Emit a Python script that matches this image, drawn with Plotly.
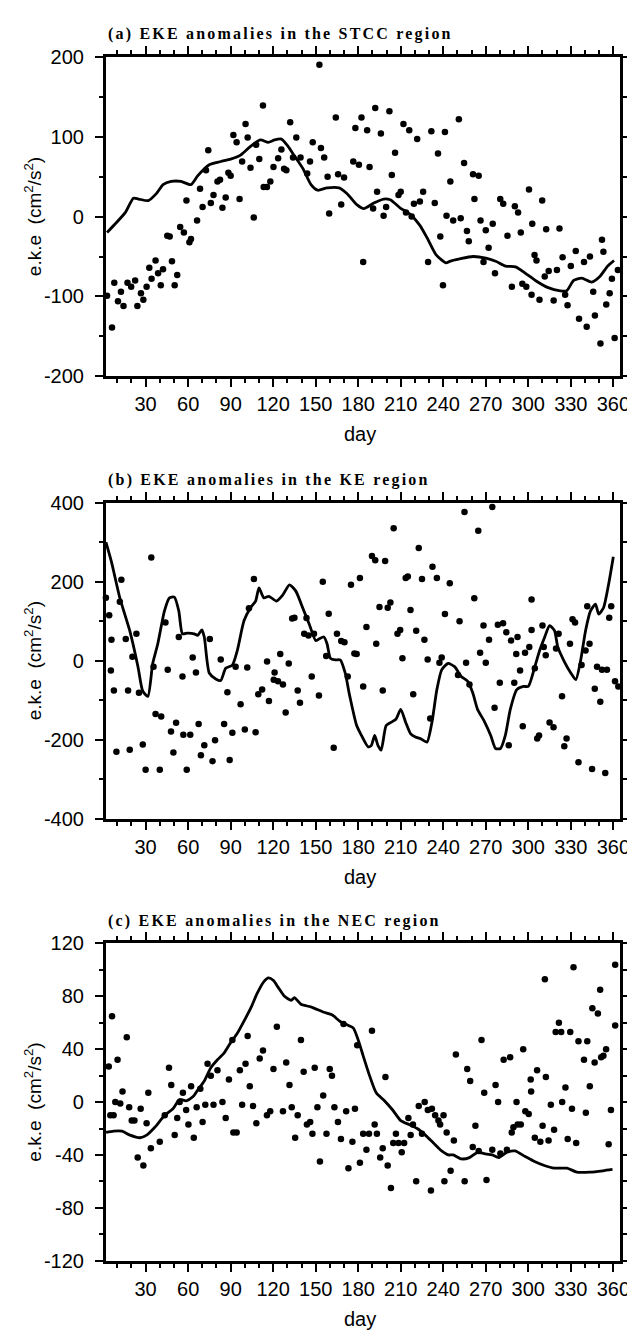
import plotly.graph_objects as go

W, H = 635, 1333

# ---------------- Panel (a): STCC ----------------
a_line_day = [2.8, 8.6, 15.6, 21.4, 25, 31.9, 37.7, 42.3, 48, 55,
              62, 66.7, 74.9, 83, 90, 97, 104, 111, 116.5, 121,
              125.8, 130.5, 135, 141, 146.7, 151.4, 158, 166.5, 172, 179,
              184, 191, 198, 202.6, 209.5, 216.5, 223.5, 229, 235, 242,
              244.6, 251.6, 261, 270, 277, 284, 291, 298, 305, 314,
              322.6, 327, 332, 337.7, 344.7, 350.5, 356, 360.5]
a_line_val = [-20, -9, 5, 23, 22, 20, 29, 40, 44, 44,
              40, 51, 65, 69, 72, 77, 88, 96, 93, 96,
              97, 88, 76, 60, 40, 33, 36, 36, 29, 15,
              10, 17, 22, 21, 11, 3, -11, -28, -48, -58,
              -56, -53, -50, -52, -56, -62, -63, -71, -80, -89,
              -93, -93, -80, -77, -82, -75, -62, -55]

a_dot_day = [2.8, 6.3, 7.9, 12.6, 10.5, 14.4, 17.2, 19.8, 22.6, 24.2, 26.7, 28.4, 30.7, 32.6, 34.2, 37, 38.8,
             40.7, 42.3, 48.6, 50.5, 52.3, 45.3, 47, 54.4, 57, 60.9, 62, 58.8, 66.3, 68.4, 70.2, 72.6, 74.2,
             76, 77.9, 80.7, 82.5, 84.2, 86.5, 88.4, 90, 91.9, 94.2, 96.3, 98.1, 100.5, 102, 104, 106.3, 108,
             110.2, 112.8, 113.3, 115.6, 118, 120.2,
             123.5, 125.8, 127.7, 129.3, 132, 134, 136.3, 139.3, 144, 146, 147.9, 152.6, 153.7, 156, 158.4,
             159.5, 164.2, 165.8, 168, 170, 176.5, 178, 180.5, 182.3, 183.5, 186.3, 188, 190.5, 192, 193.3,
             196, 197.9, 199.7, 202, 203.7, 206, 208.4, 210, 211.9, 213.7, 216, 217.7, 219.3, 221.6, 223.5,
             225.8, 229.3, 231.6, 234, 236.3, 237.9, 239.8,
             241.2, 242.3, 245, 247, 251, 252.3, 254.7, 256.7, 258, 261, 262, 265, 266.3, 268.4, 270, 272,
             274.9, 276.5, 280.2, 282.3, 285.3, 288.4, 290.5, 292.8, 294.7, 295.8, 298.6, 300.5, 302.3,
             302.8, 304.4, 305.8, 307.9, 309.8, 311.6, 312.6, 314.4, 317.9, 320.2, 322, 324.2, 326, 327.7,
             330, 333.5, 335.8, 339.3, 341.2, 343.5, 345.8, 347, 350.9, 352, 353, 355, 357.4, 359, 360.9, 363.2]
a_dot_val = [-99, -139, -83, -94, -106, -112, -83, -88, -80, -112, -96, -104, -88, -64, -78, -55, -71,
             -86, -66, -56, -86, -73, -24, -25, -13, -20, -32, -28, 20, -5, 35, 12, 58, 83,
             17, 27, 44, 46, 11, 24, 55, 51, 102, 93, 22, 69, 116, 99, 61, -1, 90,
             72, 139, 37, 37, 44, 62,
             73, 84, 60, 58, 118, 74, 99, 74, 54, 69, 93, 190, 86, 74, 50,
             4, 124, 53, 15, 49, 69, 111, 65, 124, -57, 108, 62, 10, 136, 31,
             104, 1, 12, 132, 52, 80, 27, 31, 116, 5, 108, 0, 16, 97, 19,
             31, -57, 107, 17, 79, -25, -86,
             106, 1, 44, -5, 122, -2, 67, -18, -31, 53, 22, 51, -5, -57, -17, -39,
             -9, -71, 22, 16, -24, -88, 13, 5, -20, -84, -88, 34, -98,
             -9, -48, -55, -104, 20, -75, -16, -68, -105, -67, -15, -51, -98, -111,
             -62, -43, -128, -57, -138, -50, -94, -124, -159, -29, -44, -110, -96, -78, -152, -67]

# ---------------- Panel (b): KE ----------------
b_line_day = [2, 5.9, 11.8, 18.8, 24.6, 28, 31.6, 35, 38.6, 43.3, 46.8, 50.3, 53.4, 56, 59.7, 64.3, 66.7,
              69.7, 71.4, 74.9, 79.5, 83, 86.5, 91.2, 94.7, 99.4, 104, 107.6, 110, 113.4, 117,
              122.3, 126.9, 131.5, 136, 140.8, 145.4, 150, 152.3, 155.8, 158, 160.4, 163.9, 167.3, 170.8,
              174, 178.9, 182.3, 187, 189.3, 191.6, 193.9, 196.2, 199.7, 203.1, 206.6, 210, 213.5, 217,
              220.4, 223.9, 228.5, 232, 235.5, 238.9,
              243.4, 248, 252.7, 257.3, 260.8, 264.2, 268.8, 273.5, 276.9, 280.4, 283.8, 287.3, 291.9,
              296.6, 300, 304.6, 308, 311.6, 315, 318.5, 320.8, 325.4, 330, 333.5, 337, 340.4, 343.9,
              347.4, 349.7, 353.1, 356.6, 360]
b_line_val = [300, 250, 159, 76, -15, -77, -90, -7, 43, 126, 159, 161, 126, 68, 70, 68, 64,
              78, 60, -31, -46, -50, -19, -11, 26, 101, 134, 151, 184, 159, 163,
              151, 167, 192, 176, 134, 93, 51, 55, 60, 43, 6, 2, 2, -31,
              -89, -164, -189, -218, -214, -189, -214, -226, -164, -156, -148, -123, -156, -185,
              -193, -197, -206, -156, -73, -23,
              -7, -15, -40, -52, -81, -123, -152, -189, -222, -222, -189, -123, -73,
              -65, -65, -15, 26, 60, 89, 76, 35, -2, -31, -48, 2, 76, 126,
              143, 118, 134, 192, 263]

b_dot_day = [2, 4.3, 5.9, 5.5, 7.6, 9.4, 12.9, 11.8, 16, 17.6, 18.8, 20.7, 23.5, 25.3, 28, 30, 34, 35.6,
             37, 40, 41, 44, 45.6, 47.9, 49.6, 51.5, 53.4, 56, 56.6, 59, 61.5, 63.2, 65.5, 67.4, 69, 71.4,
             75.3, 77.2, 79, 83, 85.4, 87.7, 89.3, 91.2, 93.5, 97, 100, 101.7, 107.6, 109.5, 112.2, 115.7,
             117, 106.4, 102.9, 120.4,
             121, 123.4, 125, 126.9, 128.8, 131, 133.4, 135, 137.3, 138.9, 141.9, 143.5, 144.9, 147.2,
             148.8, 152.3, 155, 157.4, 159.2, 162.7, 165, 168, 170.3, 172.6, 174.9, 177.3, 178.9, 181.2,
             183.5, 185.8, 189.7, 192, 192.7, 195, 197.3, 199, 200.8, 202.7, 205, 207.7, 209.6, 211.2,
             213.5, 215, 216.9, 218.8, 220.9, 222.7, 225, 226.7, 229, 230.8, 232.4, 235.5, 237.3, 238.9,
             241.2,
             244.6, 251.5, 250.4, 255, 256.1, 258.5, 261.9, 264.7, 266, 268.4, 270, 272.3, 274.6, 276.2,
             278.5, 279.9, 282.2, 284.5, 286.2, 287.8, 290.1, 291.5, 292.4, 294.2, 296.1, 297.7, 300.7,
             302.3, 302.3, 304.6, 306.3, 307.6, 310, 310.9, 312.3, 315, 317.8, 319.6, 321.4, 323.8, 325.4,
             327, 329.4, 331.2, 333, 335.4, 337.6, 340.4, 341.6, 343.2, 345, 346.9, 348.5, 350.8, 352,
             354.3, 355.5, 357.1, 358.5, 361.2, 363.5]
b_dot_val = [159, 115, 53, -25, -75, -230, 205, 149, 55, -75, -225, 10, 68, -81, -212, -276, 261, -15,
             -135, -276, -141, 97, -23, -179, -232, -157, 60, -40, -187, -276, -187, 8, -30, -160, -239, -214,
             55, -254, -201, 3, -160, -80, -251, -182, -15, -110, -174, -17, -181, -85, -73, -2,
             -102, 207, 133, -48,
             -30, -52, 17, -60, -131, -7, 107, 109, -75, -106, 68, 108, 64, -40,
             68, -88, 200, 12, 119, -220, 68, 50, 47, -40, 192, 18, 17, 209,
             -65, 85, 265, 254, 43, 136, -75, 252, 134, 147, 335, 68, 78, 6,
             209, 213, 128, -85, 76, 285, 207, 53, 3, -146, 238, 209, -5, 8,
             118,
             196, 100, -36, 376, -5, -60, 158, 329, 20, 89, -5, 53, 389, -119,
             91, -56, 95, 72, -214, 51, -56, 17, 60, -25, -166, 20, 35,
             155, 78, -19, -197, -189, 89, 35, 14, -156, -168, 31, 68, -90, -216,
             -197, 43, 105, 97, -257, -11, 26, 138, 43, -274, -71, -15, -104, -23,
             -284, -23, 109, 138, -52, -65]

# ---------------- Panel (c): NEC ----------------
c_line_day = [2.1, 7.4, 13.3, 19, 26, 30.7, 36.5, 43.5, 49.3, 54, 58.6, 63.3, 66.7, 71.4, 76, 80.7, 85.3,
              90, 94.7, 99.3, 105, 108.6, 113.3, 116.7, 120.2,
              123.4, 128, 132.7, 135, 139.6, 146.5, 155.8, 161.5, 167.3, 173.1, 176.6, 180, 183.5, 188,
              192.7, 198.5, 204.3, 210, 215.8, 221.6, 227.4, 233.1, 238.9, 243.5,
              247, 252.8, 258.5, 264.3, 268.9, 274.6, 279.2, 284.9, 290.6, 297.5, 304.4, 311.3, 318.2,
              327.3, 334.2, 343.4, 352.6, 359.4]
c_line_val = [-23, -22, -22, -25, -27, -25, -19, -10, -5, 2, 1, 4, 9, 16, 26, 32, 37,
              45, 52, 61, 73, 82, 91, 94, 92,
              87, 80, 77, 79, 74, 72, 68, 66, 61, 58, 56, 47, 35, 20,
              7, 1, -6, -14, -17, -20, -25, -31, -37, -40,
              -40, -43, -42, -38, -39, -40, -42, -38, -37, -41, -45, -48, -50,
              -50, -53, -53, -52, -51]

c_dot_day = [6.3, 4, 7.4, 5.1, 10.2, 8.6, 12.1, 13.7, 16.7, 18.4, 20.2, 22.1, 24.4, 26.5, 28.4, 30.7, 31.9,
             33.7, 40, 43.5, 46.5, 48.1, 50.5, 52.3, 54, 56.3, 58.6, 60.2, 62.1, 64, 66, 68.6, 70.2, 72.1,
             73.7, 76, 77.9, 80.7, 84.2, 86.5, 88.8, 91.2, 91.9, 94.2, 96.5, 98.1, 100.5, 102, 103.5, 105.8,
             108.1, 110.5, 112.8, 115.6, 117.9, 120.2, 122.6,
             126.9, 129.2, 131.5, 133.1, 135.5, 137.3, 139.6, 141.5, 143.8, 146.1, 147.7, 149.3, 151.2,
             153, 155.3, 157.6, 159.9, 161.5, 163.2, 165.7, 167.8, 169.6, 171.5, 173.1, 175.9, 177.7, 179.3,
             181.2, 183.5, 185.8, 187.6, 189.7, 191.6, 193.2, 195.5, 197.3, 199.2, 200.8, 203.1, 204.7,
             206.6, 208.4, 210.7, 212.4, 215.4, 217, 218.6, 220.9, 222.7, 225, 226.9, 229.1, 231.3, 232,
             234.3, 236.6, 237.8, 240.8, 242.4,
             240.2, 245.2, 247.5, 248.9, 255.1, 256.9, 259, 260.8, 262.7, 265, 267, 268.9, 270.5, 274.6,
             276.9, 278.7, 280.3, 282.6, 284.9, 287.2, 288.3, 289.5, 291.7, 292.5, 294.7, 296.4, 297.9,
             300.3, 301.7, 302, 304.6, 306.2, 308.5, 310.1, 311.7, 312.4, 314.3, 315.9, 318.2, 319.3,
             321.6, 323.2, 323.9, 326.2, 327.8, 329.6, 330.8, 331.9, 333.8, 335.4, 339.3, 340.6, 341.6,
             343.4, 345.2, 346.8, 349.1, 350.7, 351.4, 353, 354.9, 356.7, 358.3, 361.3, 361.3]
c_dot_val = [65, 27, -10, -10, 32, 0, -1, 8, 49, -4, -14, -14, -42, -5, -48, -16, 7,
             -35, -30, -10, 26, 13, -25, -12, 0, 7, -6, -17, 12, -27, -4, 10, -15, -2,
             29, 20, -2, 24, 0, -12, 17, 47, -23, -23, 24, -2, 29, 50, 12, -3,
             -16, 33, 39, -10, -7, 25, 57,
             -7, 30, 13, -4, -27, -10, 47, 23, -17, -15, -24, 26, -4,
             -45, 5, -24, 25, 20, -4, -15, -28, 59, -7, -50, -30, -5, 43,
             -46, -24, -36, -24, 54, -17, -24, -42, -35, 19, -48, -65, -31,
             -24, -31, -38, -31, -12, -25, -17, -60, -3, -24, 0, -6, -67, -5,
             -10, -14, -17, -60, -23,
             -10, -52, -29, 36, -60, 25, 16, -34, -18, -37, 47, 7, -59, -36,
             13, 0, -39, 32, -36, 34, -23, -19, 0, -17, -17, 40, -7,
             -9, 17, 8, -27, 24, -30, -18, 93, 19, -29, -2, -21, 53,
             60, 53, 0, 11, -28, 53, -5, 102, -31, 46, 32, -8, 46,
             12, 71, 30, 67, 85, 34, 35, 40, -32, -6, 104, 58]

panel_titles = ["(a) EKE anomalies in the STCC region",
                "(b) EKE anomalies in the KE region",
                "(c) EKE anomalies in the NEC region"]
y_tick_vals = [[-200, -100, 0, 100, 200],
               [-400, -200, 0, 200, 400],
               [-120, -80, -40, 0, 40, 80, 120]]
y_tick_text = [["-200", "-100", "0", "100", "200"],
               ["-400", "-200", "0", "200", "400"],
               ["-120", "-80", "-40", "0", "40", "80", "120"]]
x_tick_vals = [30, 60, 90, 120, 150, 180, 210, 240, 270, 300, 330, 360]
y_minor = [50, 100, 20]
x_range = [2, 364.5]

# pixel geometry of the three frames (top, bottom)
frames = [(38.5, 363.3), (491.7, 813.3), (940.0, 1262.5)]
x_left, x_right = 99.5, 621.5

dots = [(a_dot_day, a_dot_val), (b_dot_day, b_dot_val), (c_dot_day, c_dot_val)]
lines = [(a_line_day, a_line_val), (b_line_day, b_line_val), (c_line_day, c_line_val)]

fig = go.Figure()
tickfont = dict(family="Liberation Sans, Arial, sans-serif", size=20, color="black")
annotations = []

for i in range(3):
    sfx = "" if i == 0 else str(i + 1)
    xa, ya = "x" + sfx, "y" + sfx
    fig.add_trace(go.Scatter(x=dots[i][0], y=dots[i][1], mode="markers",
                             marker=dict(size=6.5, color="black"), xaxis=xa, yaxis=ya,
                             cliponaxis=False, showlegend=False))
    fig.add_trace(go.Scatter(x=lines[i][0], y=lines[i][1], mode="lines",
                             line=dict(color="black", width=2.8, shape="spline", smoothing=0.6),
                             xaxis=xa, yaxis=ya, showlegend=False))
    top, bot = frames[i]
    common = dict(showline=True, linecolor="black", linewidth=3, mirror="allticks",
                  ticks="outside", ticklen=8, tickwidth=2, tickcolor="black",
                  showgrid=False, zeroline=False, tickfont=tickfont)
    fig.layout["xaxis" + sfx] = dict(
        common, range=x_range, tickmode="array", tickvals=x_tick_vals,
        ticktext=[str(v) for v in x_tick_vals], anchor=ya,
        domain=[x_left / W, x_right / W],
        minor=dict(tickmode="linear", dtick=10, tick0=0, ticks="outside", ticklen=4,
                   tickwidth=1.5, tickcolor="black", showgrid=False))
    fig.layout["yaxis" + sfx] = dict(
        common, range=[y_tick_vals[i][0], y_tick_vals[i][-1]], tickmode="array",
        tickvals=y_tick_vals[i], ticktext=y_tick_text[i], anchor=xa, ticklabelstandoff=7,
        domain=[1 - bot / H, 1 - top / H],
        minor=dict(tickmode="linear", dtick=y_minor[i], tick0=0, ticks="outside", ticklen=4,
                   tickwidth=1.5, tickcolor="black", showgrid=False))
    annotations.append(dict(
        text='<span style="letter-spacing:2.2px"><b>' + panel_titles[i] + '</b></span>',
        x=x_left / W, y=1 - (top - 23) / H, xref="paper", yref="paper",
        xanchor="left", yanchor="middle", showarrow=False,
        font=dict(family="Liberation Serif, Times New Roman, serif", size=16, color="black")))
    annotations.append(dict(
        text="day", x=358 / W, y=1 - (bot + 59) / H, xref="paper", yref="paper",
        xanchor="center", yanchor="middle", showarrow=False,
        font=dict(family="Liberation Sans, Arial, sans-serif", size=20, color="black")))
    annotations.append(dict(
        text="e.k.e  (cm<sup>2</sup>/s<sup>2</sup>)", x=25 / W, y=1 - (top + bot) / 2 / H,
        xref="paper", yref="paper", xanchor="center", yanchor="middle", textangle=-90,
        showarrow=False, font=dict(family="Liberation Sans, Arial, sans-serif", size=19, color="black")))

fig.update_layout(width=W, height=H, margin=dict(l=0, r=0, t=0, b=0),
                  paper_bgcolor="white", plot_bgcolor="white",
                  annotations=annotations, showlegend=False)

fig.write_html("out.html")
